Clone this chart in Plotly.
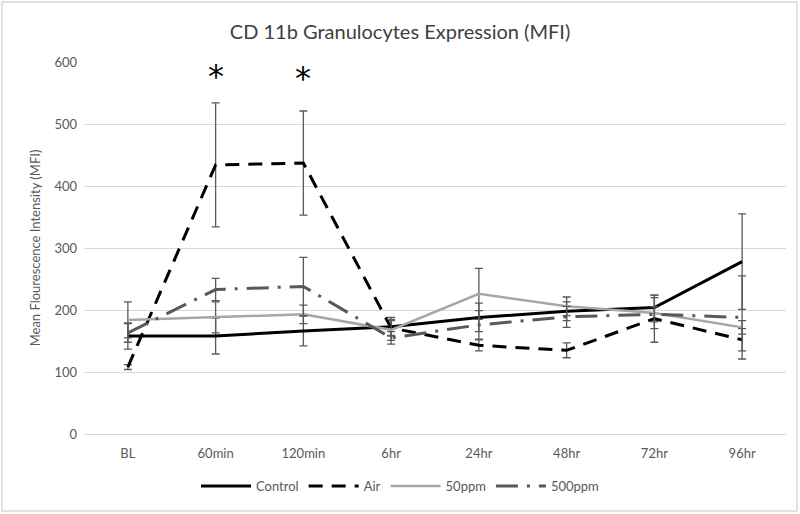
import plotly.graph_objects as go

categories = ["BL", "60min", "120min", "6hr", "24hr", "48hr", "72hr", "96hr"]

control = [158, 158, 166, 173, 188, 198, 204, 278]
control_err = [21, 29, 24, 15, 23, 15, 20, 77]

air = [108, 434, 437, 171, 143, 135, 186, 152]
air_err = [4, 100, 84, 12, 9, 12, 38, 18]

ppm50 = [184, 188, 193, 168, 226, 206, 195, 172]
ppm50_err = [29, 25, 15, 17, 41, 15, 25, 11]

ppm500 = [163, 233, 238, 155, 176, 189, 193, 188]
ppm500_err = [15, 18, 47, 10, 23, 17, 12, 67]

sig_categories = ["60min", "120min"]
sig_y = [577, 574]

err_color = "#595959"
font_fam = "Lato, 'Open Sans', sans-serif"

series = [
    ("Control", control, control_err, "#000000", "solid", 3),
    ("Air", air, air_err, "#000000", "14px,9px", 3),
    ("50ppm", ppm50, ppm50_err, "#a6a6a6", "solid", 2.5),
    ("500ppm", ppm500, ppm500_err, "#595959", "22px,9px,3px,9px", 3),
]

fig = go.Figure()
for name, vals, errs, col, dash, w in series:
    fig.add_trace(go.Scatter(
        x=categories, y=vals, name=name, mode="lines",
        line=dict(color=col, dash=dash, width=w),
        error_y=dict(type="data", array=errs, visible=True,
                     color=err_color, thickness=1.3, width=4),
    ))

for c, yv in zip(sig_categories, sig_y):
    fig.add_annotation(x=c, y=yv, text="*", showarrow=False,
                       font=dict(size=32, color="#000000", family="DejaVu Sans"))

fig.add_shape(type="rect", xref="paper", yref="paper",
              x0=(2 - 84) / 702, x1=(797 - 84) / 702,
              y0=(434 - 511) / 372, y1=(434 - 2) / 372,
              line=dict(color="#d9d9d9", width=1.5), layer="below")

fig.update_layout(
    width=800, height=514,
    margin=dict(l=84, r=14, t=62, b=80, autoexpand=False),
    paper_bgcolor="white", plot_bgcolor="white",
    font=dict(family=font_fam, color="#595959", size=13),
    title=dict(text="CD 11b Granulocytes Expression (MFI)", x=0.5, xanchor="center",
               y=1 - 32 / 514, yanchor="middle",
               font=dict(size=20, color="#404040", family=font_fam)),
    showlegend=True,
    legend=dict(orientation="h", x=(400 - 84) / 702, xanchor="center", y=-0.14, yanchor="middle",
                font=dict(size=13, color="#595959"), traceorder="normal",
                itemwidth=50),
    xaxis=dict(type="category", range=[-0.5, 7.5], showgrid=False,
               showline=False, ticks="", tickfont=dict(size=13, color="#595959"),
               ticklabelstandoff=10),
    yaxis=dict(range=[0, 600], dtick=100, showgrid=True, gridcolor="#d9d9d9",
               gridwidth=1, zeroline=True, zerolinecolor="#d9d9d9", zerolinewidth=1,
               showline=False, ticks="", tickfont=dict(size=13, color="#595959"),
               ticklabelstandoff=6,
               title=dict(text="Mean Flourescence Intensity (MFI)",
                          font=dict(size=13, color="#595959"), standoff=10)),
)

fig.write_html("out.html", config={"displayModeBar": False},
               post_script="document.body.style.margin='0';")
